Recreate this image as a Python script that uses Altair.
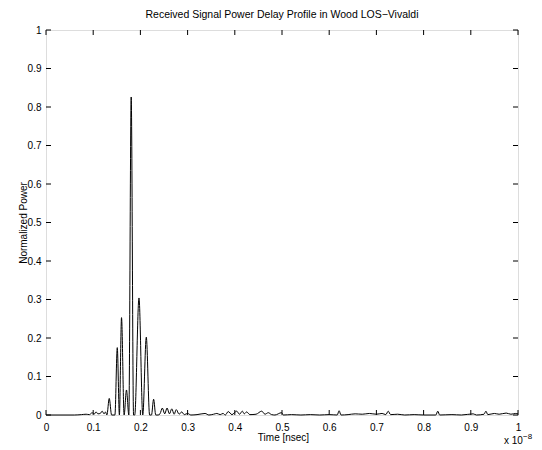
import altair as alt
import pandas as pd

# Time axis values (units of 1e-8 s) and normalized power
time_vals = [
    0.000, 0.060, 0.075, 0.085, 0.092, 0.098, 0.102, 0.106, 0.110, 0.115,
    0.119, 0.123, 0.126, 0.129, 0.134, 0.139, 0.146, 0.151, 0.1555, 0.160,
    0.1655, 0.1705, 0.1755, 0.1805, 0.1855, 0.188, 0.197, 0.205, 0.2125, 0.2195,
    0.2235, 0.228, 0.2325, 0.2375, 0.2415, 0.2465, 0.2515, 0.2565, 0.2615, 0.2665,
    0.2715, 0.276, 0.282, 0.2875, 0.293, 0.300, 0.307, 0.320, 0.337, 0.345,
    0.355, 0.362, 0.369, 0.375, 0.380, 0.386, 0.394, 0.404, 0.410, 0.416,
    0.420, 0.425, 0.432, 0.445, 0.457, 0.464, 0.471, 0.478, 0.485, 0.499,
    0.503, 0.520, 0.540, 0.560, 0.580, 0.600, 0.617, 0.621, 0.625, 0.640,
    0.655, 0.670, 0.685, 0.700, 0.712, 0.720, 0.725, 0.730, 0.745, 0.760,
    0.780, 0.800, 0.826, 0.830, 0.834, 0.860, 0.880, 0.905, 0.912, 0.928,
    0.932, 0.936, 0.950, 0.960, 0.975, 0.985, 0.995, 1.000,
]
power_vals = [
    0.000, 0.000, 0.001, 0.002, 0.001, 0.006, 0.002, 0.008, 0.003, 0.004,
    0.010, 0.003, 0.008, 0.000, 0.043, 0.000, 0.000, 0.175, 0.000, 0.253,
    0.000, 0.065, 0.000, 0.826, 0.000, 0.000, 0.304, 0.000, 0.202, 0.000,
    0.000, 0.041, 0.000, 0.000, 0.003, 0.018, 0.003, 0.018, 0.003, 0.016,
    0.002, 0.014, 0.002, 0.008, 0.001, 0.004, 0.000, 0.001, 0.004, 0.000,
    0.002, 0.004, 0.001, 0.004, 0.000, 0.009, 0.001, 0.010, 0.002, 0.010,
    0.003, 0.008, 0.001, 0.002, 0.010, 0.002, 0.006, 0.001, 0.000, 0.006,
    0.000, 0.001, 0.000, 0.001, 0.000, 0.001, 0.000, 0.011, 0.000, 0.001,
    0.003, 0.002, 0.004, 0.002, 0.004, 0.001, 0.010, 0.001, 0.002, 0.000,
    0.001, 0.000, 0.000, 0.010, 0.000, 0.001, 0.000, 0.003, 0.000, 0.002,
    0.010, 0.001, 0.004, 0.002, 0.005, 0.002, 0.004, 0.003,
]
tick_vals = [0, 0.1, 0.2, 0.3, 0.4, 0.5, 0.6, 0.7, 0.8, 0.9, 1.0]

title_text = "Received Signal Power Delay Profile in Wood LOS\u2212Vivaldi"
x_title = "Time [nsec]"
y_title = "Normalized Power"

W, H = 472, 385
FONT = "Liberation Sans"

df = pd.DataFrame({"t": time_vals, "p": power_vals})
ticks = pd.DataFrame({"v": tick_vals})

xs = alt.Scale(domain=[0, 1], nice=False)
ys = alt.Scale(domain=[0, 1], nice=False)

x_axis = alt.Axis(values=tick_vals, format=".1~f", title=x_title, ticks=False,
                  domain=False, grid=False, labelPadding=7, titlePadding=0,
                  labelOverlap=False, labelBound=False, labelFlush=False,
                  labelFont=FONT, labelFontSize=10, titleFont=FONT,
                  titleFontSize=10, titleFontWeight="normal", titleX=237,
                  labelColor="black", titleColor="black")
y_axis = alt.Axis(values=tick_vals, format=".1~f", title=y_title, ticks=False,
                  domain=False, grid=False, labelPadding=5, titlePadding=-1,
                  labelOverlap=False, labelBound=False, labelFlush=False,
                  labelFont=FONT, labelFontSize=10, titleFont=FONT,
                  titleFontSize=10, titleFontWeight="normal",
                  labelColor="black", titleColor="black")

line = alt.Chart(df).mark_line(color="black", strokeWidth=1, interpolate="monotone").encode(
    x=alt.X("t:Q", scale=xs, axis=x_axis, title=x_title),
    y=alt.Y("p:Q", scale=ys, axis=y_axis, title=y_title),
)

tl = 5
xb = alt.Chart(ticks).mark_rule(color="black", strokeWidth=1).encode(
    x=alt.X("v:Q", scale=xs, axis=x_axis, title=x_title), y=alt.value(H), y2=alt.value(H - tl))
xt = alt.Chart(ticks).mark_rule(color="black", strokeWidth=1).encode(
    x=alt.X("v:Q", scale=xs, axis=x_axis, title=x_title), y=alt.value(0), y2=alt.value(tl))
yl = alt.Chart(ticks).mark_rule(color="black", strokeWidth=1).encode(
    y=alt.Y("v:Q", scale=ys, axis=y_axis, title=y_title), x=alt.value(0), x2=alt.value(tl))
yr = alt.Chart(ticks).mark_rule(color="black", strokeWidth=1).encode(
    y=alt.Y("v:Q", scale=ys, axis=y_axis, title=y_title), x=alt.value(W), x2=alt.value(W - tl))

exp_base = alt.Chart(pd.DataFrame({"s": ["x 10"]})).mark_text(
    font=FONT, fontSize=10, align="left", baseline="alphabetic", color="black"
).encode(text="s:N", x=alt.value(458), y=alt.value(414))
exp_sup = alt.Chart(pd.DataFrame({"s": ["\u22128"]})).mark_text(
    font=FONT, fontSize=8, align="left", baseline="alphabetic", color="black"
).encode(text="s:N", x=alt.value(477), y=alt.value(409))

chart = alt.layer(line, xb, xt, yl, yr, exp_base, exp_sup).properties(
    width=W, height=H,
    title=alt.TitleParams(title_text, font=FONT, fontSize=10.5, fontWeight="normal",
                          color="black", offset=5),
    autosize=alt.AutoSizeParams(type="none"),
    padding={"left": 46, "top": 30, "right": 24, "bottom": 35},
).configure_view(stroke="black", strokeWidth=1).configure(background="white")

chart.save("out.html", embed_options={"renderer": "svg", "actions": False})
